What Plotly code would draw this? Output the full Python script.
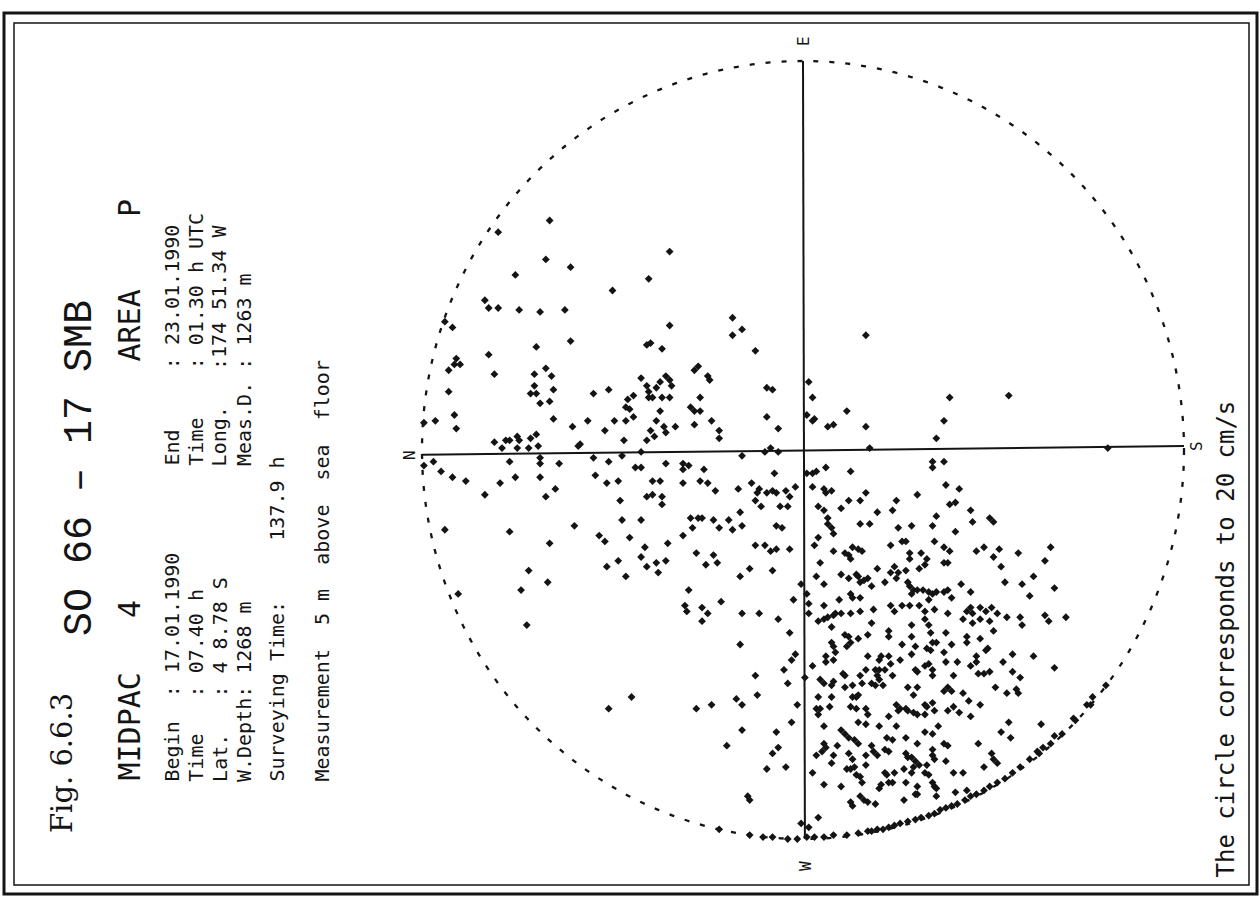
import plotly.graph_objects as go

# ---------------------------------------------------------------------------
# Current-meter scatter (velocity hodograph), station SO 66-17 SMB, area P.
# Each point is one (north, east) velocity reading in cm/s; the dashed
# circle marks 20 cm/s. Readings above 20 cm/s are drawn on the circle.
# ---------------------------------------------------------------------------

# (north, east) components, cm/s -- north-east sector
sector_ne = [
    (13.3, 11.8), (16.0, 11.2), (13.5, 9.8), (12.2, 9.4), (15.1, 9.0), (10.0, 8.2),
    (8.1, 8.8), (7.0, 10.2), (16.7, 7.7), (16.5, 7.3), (16.0, 7.3), (14.9, 7.2),
    (13.8, 7.1), (12.5, 7.2), (18.4, 6.3), (18.8, 6.6), (7.0, 6.4), (3.7, 6.8),
    (3.7, 5.9), (3.2, 6.2), (2.5, 5.1), (8.2, 5.4), (8.0, 5.5), (7.4, 5.2),
    (12.2, 5.6), (14.0, 5.3), (16.5, 4.9), (18.2, 4.7), (18.3, 4.4), (18.0, 4.4),
    (18.6, 4.1), (16.2, 3.9), (14.1, 3.9), (13.5, 4.2), (13.2, 3.8), (14.1, 3.3),
    (14.3, 2.9), (14.0, 2.9), (13.1, 3.1), (13.8, 2.4), (13.3, 2.5), (18.6, 3.0),
    (11.0, 2.9), (10.2, 3.1), (8.5, 3.7), (8.2, 3.3), (8.1, 3.0), (8.1, 2.7),
    (7.9, 2.7), (7.7, 3.2), (7.5, 3.5), (7.2, 3.8), (7.0, 3.6), (6.9, 3.3),
    (7.4, 2.7), (7.0, 2.7), (5.7, 4.1), (5.5, 4.3), (5.0, 3.8), (4.9, 3.6),
    (5.4, 2.7), (9.2, 2.6), (8.9, 2.8), (9.3, 2.2), (9.1, 2.1), (8.9, 1.7),
    (7.5, 2.0), (5.9, 2.2), (5.7, 2.0), (5.4, 2.0), (1.9, 3.2), (1.6, 3.1),
    (1.9, 1.7), (1.3, 1.1), (18.3, 1.8), (18.2, 1.1), (19.3, 1.5), (19.9, 1.4),
    (13.1, 1.6), (12.1, 1.2), (11.3, 1.5), (10.4, 1.0), (9.9, 1.5), (9.3, 1.5),
    (9.4, 0.5), (11.7, 0.3), (11.8, 0.2), (16.2, 0.4), (15.6, 0.5), (15.4, 0.5),
    (15.0, 0.7), (14.9, 0.5), (14.3, 0.6), (14.0, 0.8), (13.9, 0.2), (7.7, 1.5),
    (8.0, 1.0), (7.8, 0.7), (8.2, 0.5), (7.3, 1.2), (7.2, 0.9), (6.7, 1.2),
    (5.7, 1.3), (4.8, 1.5), (4.4, 1.0), (4.4, 0.6), (1.7, 0.1), (15.8, 0.1),
    (15.0, 0.1), (14.4, 0.1),
]

# south-east sector
sector_se = [
    (-0.2, 1.8), (-0.3, 3.5), (-3.3, 5.9), (-0.5, 2.7), (-0.5, 1.5), (-0.6, 1.6),
    (-1.3, 1.2), (-1.6, 1.3), (-2.3, 2.0), (-3.3, 1.2), (-7.0, 0.6), (-7.4, 1.5),
    (-7.7, 2.7), (-10.8, 2.8), (-3.5, 0.1), (-16.0, 0.1),
]

# north-west sector
sector_nw = [
    (1.3, -0.1), (2.0, -0.1), (8.5, -0.1), (15.4, -0.6), (13.8, -0.4), (13.8, -0.7),
    (12.8, -0.7), (19.9, -0.8), (19.4, -0.6), (19.0, -1.1), (18.4, -1.4), (17.7, -1.6),
    (16.7, -2.3), (15.9, -1.7), (15.1, -1.4), (13.8, -1.4), (13.5, -2.4), (13.0, -2.0),
    (11.0, -0.4), (10.9, -1.3), (10.2, -0.6), (10.3, -1.7), (9.7, -1.6), (9.6, -2.6),
    (9.5, -0.3), (8.8, -0.9), (8.5, -0.9), (7.2, -0.7), (6.3, -0.7), (6.3, -1.0),
    (6.0, -0.8), (5.2, -1.0), (3.2, -0.3), (7.9, -1.6), (7.5, -1.6), (8.2, -2.4),
    (7.9, -2.3), (7.4, -2.4), (7.4, -2.8), (6.3, -1.7), (5.4, -1.6), (5.0, -1.7),
    (4.6, -2.1), (3.4, -2.0), (2.7, -1.7), (2.3, -2.0), (2.4, -2.2), (1.9, -2.2),
    (1.6, -2.1), (1.4, -2.2), (0.9, -2.1), (0.4, -1.9), (1.5, -1.2), (2.5, -2.6),
    (2.2, -2.9), (1.2, -2.9), (0.8, -2.9), (0.7, -2.4), (18.8, -4.1), (15.4, -4.2),
    (13.3, -4.8), (12.0, -3.9), (10.7, -4.4), (10.4, -4.7), (9.5, -3.6), (8.5, -3.6),
    (9.1, -4.5), (8.3, -5.0), (8.5, -5.5), (8.2, -6.0), (7.7, -5.8), (7.6, -6.3),
    (7.2, -5.7), (7.1, -4.8), (9.7, -5.7), (10.3, -6.0), (9.3, -6.5), (6.3, -4.4),
    (5.9, -3.5), (5.5, -3.5), (5.3, -3.5), (5.8, -4.0), (4.7, -3.6), (4.4, -4.0),
    (3.9, -3.6), (3.7, -4.1), (3.2, -3.9), (3.3, -3.2), (5.6, -5.3), (4.7, -5.4),
    (5.1, -5.9), (4.5, -5.8), (2.8, -6.1), (3.3, -6.5), (2.5, -4.9), (2.0, -4.9),
    (1.7, -5.2), (1.4, -5.1), (0.7, -5.1), (1.4, -3.9), (1.1, -4.0), (1.6, -6.2),
    (0.1, -6.9), (6.0, -7.2), (6.2, -8.0), (6.1, -8.3), (5.3, -8.1), (5.0, -8.4),
    (5.3, -8.8), (4.3, -7.8), (3.2, -8.4), (2.3, -8.4), (1.3, -8.7), (0.5, -7.7),
    (0.7, -9.4), (3.3, -10.0), (0.4, -10.5), (0.6, -10.8), (1.0, -11.3), (0.8, -12.0),
    (2.5, -11.6), (2.4, -12.6), (3.5, -12.8), (3.2, -13.1), (4.8, -13.1), (5.6, -13.3),
    (0.3, -13.1), (0.6, -14.0), (3.2, -14.4), (1.4, -14.5), (1.3, -15.3), (1.6, -15.6),
    (4.0, -15.2), (1.9, -16.4), (0.9, -16.3), (2.9, -17.8), (2.8, -18.0), (9.0, -12.7),
    (10.2, -13.3), (18.1, -7.4), (14.8, -7.2), (14.4, -6.2), (13.4, -6.8), (14.5, -9.0),
    (0.1, -19.2), (2.8, -19.8), (2.1, -19.9), (1.6, -19.9), (0.8, -20.0), (0.3, -20.0),
    (4.4, -19.5),
]

# south-west sector
sector_sw = [
    (-6.8, -0.6), (-6.8, -0.9), (-7.4, -0.6), (-0.2, -1.2), (-0.5, -1.2), (-0.7, -1.1),
    (-1.2, -0.9), (-2.5, -1.1), (-0.5, -1.9), (-1.1, -2.0), (-1.2, -2.2), (-1.5, -2.1),
    (-3.3, -2.2), (-3.0, -2.6), (-2.4, -2.6), (-6.0, -2.3), (-7.5, -1.8), (-8.2, -2.0),
    (-4.9, -2.6), (-7.7, -2.8), (-8.0, -2.7), (-0.8, -2.9), (-1.1, -3.1), (-2.0, -3.0),
    (-3.9, -3.2), (-4.7, -3.1), (-1.3, -3.5), (-1.3, -3.8), (-1.5, -4.0), (-1.6, -4.3),
    (-3.0, -3.8), (-3.5, -3.8), (-5.0, -4.0), (-5.7, -3.9), (-6.8, -3.9), (-7.0, -3.4),
    (-8.0, -4.2), (-8.8, -3.1), (-8.9, -3.7), (-9.8, -3.5), (-10.0, -3.7), (-0.8, -4.5),
    (-0.6, -4.9), (-1.6, -5.2), (-2.2, -5.3), (-2.4, -5.4), (-2.6, -5.0), (-2.9, -5.1),
    (-3.1, -5.2), (-2.5, -5.6), (-4.6, -4.9), (-5.2, -4.7), (-5.4, -4.7), (-5.6, -5.3),
    (-5.6, -5.6), (-6.2, -5.3), (-6.5, -5.6), (-6.4, -5.9), (-6.1, -6.1), (-6.9, -4.7),
    (-7.4, -5.0), (-7.7, -5.2), (-7.4, -5.8), (-7.6, -5.8), (-9.1, -5.2), (-9.5, -5.0),
    (-10.0, -5.5), (-10.3, -5.1), (-10.4, -6.0), (-11.3, -5.3), (-12.7, -5.7), (-13.0, -5.0),
    (-0.9, -5.8), (-0.7, -6.5), (-1.1, -6.9), (-2.0, -6.4), (-2.4, -6.6), (-2.8, -6.4),
    (-2.9, -6.5), (-3.0, -6.8), (-3.2, -6.7), (-3.4, -6.6), (-3.6, -7.0), (-3.9, -6.1),
    (-4.3, -6.8), (-4.6, -6.3), (-4.8, -6.0), (-5.0, -6.3), (-5.4, -6.2), (-4.9, -6.6),
    (-5.5, -6.8), (-5.6, -7.0), (-5.8, -7.2), (-6.0, -7.2), (-6.3, -7.2), (-6.6, -7.3),
    (-5.7, -7.4), (-7.0, -7.3), (-7.4, -7.3), (-7.6, -7.2), (-6.6, -7.7), (-6.8, -7.4),
    (-6.9, -8.2), (-7.8, -7.6), (-8.3, -6.9), (-8.8, -7.3), (-10.6, -6.8), (-11.5, -6.9),
    (-11.9, -7.5), (-12.1, -6.5), (-13.2, -7.1), (-0.2, -7.4), (-0.3, -7.9), (-1.1, -8.0),
    (-1.9, -7.7), (-2.5, -7.4), (-2.6, -7.6), (-3.0, -7.6), (-3.7, -8.2), (-4.6, -8.0),
    (-4.8, -8.3), (-5.2, -8.0), (-5.6, -8.0), (-6.1, -8.0), (-6.4, -8.3), (-3.0, -8.3),
    (-2.5, -8.4), (-0.3, -8.4), (-0.8, -8.8), (-1.1, -8.7), (-1.3, -8.6), (-1.6, -8.5),
    (-1.7, -8.4), (-2.0, -8.4), (-7.6, -8.4), (-8.6, -8.3), (-8.8, -8.1), (-8.9, -8.4),
    (-9.3, -8.1), (-9.6, -8.3), (-9.9, -8.1), (-10.2, -8.4), (-10.7, -8.6), (-11.4, -8.6),
    (-8.4, -8.7), (-8.9, -8.9), (-9.3, -8.7), (-9.8, -8.8), (-10.0, -9.3), (-11.5, -9.0),
    (-12.7, -8.5), (-12.9, -8.8), (-13.8, -8.6), (-6.4, -8.7), (-6.6, -9.0), (-5.7, -9.0),
    (-3.6, -8.9), (-1.5, -9.1), (-2.2, -9.5), (-2.4, -9.6), (-2.5, -9.9), (-2.3, -10.1),
    (-2.9, -9.7), (-3.4, -9.5), (-1.5, -9.9), (-1.6, -10.1), (-1.7, -10.4), (-4.5, -9.3),
    (-4.5, -9.6), (-5.7, -9.6), (-6.7, -9.4), (-6.8, -9.9), (-7.0, -9.9), (-7.5, -9.4),
    (-7.8, -10.0), (-8.6, -9.6), (-8.6, -9.9), (-9.3, -9.7), (-9.7, -10.2), (-9.6, -10.3),
    (-6.5, -10.2), (-6.7, -10.3), (-5.9, -10.1), (-7.4, -10.4), (-5.2, -10.0), (-3.4, -10.6),
    (-4.1, -10.6), (-4.0, -10.8), (-4.5, -10.6), (-5.7, -10.5), (-4.6, -11.0), (-5.1, -10.8),
    (-1.2, -10.6), (-1.2, -10.9), (-1.6, -10.8), (-0.5, -11.1), (-2.1, -11.5), (-2.2, -11.6),
    (-3.0, -11.6), (-3.3, -11.3), (-3.8, -11.3), (-3.9, -11.6), (-4.0, -11.3), (-4.3, -11.3),
    (-4.7, -11.6), (-5.9, -11.3), (-6.0, -11.4), (-6.4, -11.1), (-6.6, -11.0), (-6.8, -11.3),
    (-7.5, -10.9), (-8.1, -10.9), (-8.8, -11.1), (-9.1, -10.6), (-9.1, -10.9), (-9.2, -11.5),
    (-9.5, -11.5), (-9.8, -11.4), (-10.5, -10.9), (-11.0, -10.5), (-11.0, -11.4), (-11.4, -11.7),
    (-12.1, -10.6), (-13.2, -11.2), (-6.8, -11.6), (-7.9, -11.6), (-0.1, -11.7), (-0.9, -11.8),
    (-1.1, -12.0), (-1.6, -11.9), (-1.5, -12.1), (-2.2, -12.2), (-2.6, -12.1), (-3.1, -12.0),
    (-3.6, -12.0), (-4.0, -11.8), (-3.8, -12.1), (-4.2, -12.1), (-5.5, -12.2), (-6.0, -12.2),
    (-7.6, -12.2), (-7.4, -12.4), (-7.8, -12.4), (-8.4, -12.5), (-2.6, -12.7), (-2.8, -12.7),
    (-2.9, -12.6), (-1.5, -12.7), (-0.8, -12.7), (-5.8, -12.6), (-6.4, -13.1), (-10.1, -12.2),
    (-10.7, -12.5), (-11.2, -12.3), (-11.3, -12.5), (-8.7, -12.9), (-9.3, -13.1), (-0.7, -13.3),
    (-0.9, -13.3), (-1.4, -13.2), (-0.8, -13.6), (-2.5, -13.2), (-2.8, -13.3), (-3.3, -13.3),
    (-3.4, -13.6), (-4.5, -13.7), (-4.9, -13.1), (-5.0, -13.4), (-5.1, -13.3), (-5.4, -13.3),
    (-5.5, -13.4), (-5.8, -13.5), (-6.0, -13.6), (-6.4, -13.6), (-6.5, -13.2), (-6.8, -13.0),
    (-6.9, -13.4), (-7.6, -13.4), (-7.9, -13.2), (-8.2, -13.5), (-8.8, -13.7), (-1.1, -14.2),
    (-2.9, -14.0), (-3.3, -14.1), (-4.0, -14.2), (-4.9, -14.2), (-6.4, -14.5), (-6.8, -14.6),
    (-7.1, -14.2), (-5.4, -14.8), (-10.4, -14.5), (-10.8, -14.0), (-10.9, -14.8), (-12.5, -14.1),
    (-14.2, -13.8), (-14.9, -13.1), (-15.2, -12.7), (-2.0, -14.4), (-2.2, -14.6), (-2.4, -14.8),
    (-2.7, -14.9), (-2.9, -15.1), (-1.8, -15.2), (-1.1, -15.1), (-1.2, -15.3), (-1.0, -15.5),
    (-0.7, -15.7), (-1.6, -15.7), (-2.4, -15.6), (-2.6, -15.9), (-3.3, -15.7), (-3.6, -15.2),
    (-3.7, -15.5), (-3.9, -15.7), (-4.4, -14.8), (-4.7, -14.9), (-4.3, -15.4), (-4.5, -15.5),
    (-5.4, -15.6), (-5.5, -15.8), (-5.7, -15.8), (-5.9, -16.0), (-6.0, -15.1), (-6.8, -15.4),
    (-6.8, -15.7), (-7.4, -15.1), (-7.6, -15.2), (-7.5, -16.0), (-9.2, -15.1), (-9.9, -15.6),
    (-10.0, -15.9), (-10.2, -16.1), (-12.3, -15.5), (-12.6, -15.3), (-13.2, -14.7), (-1.5, -16.1),
    (-0.5, -16.6), (-2.3, -16.4), (-2.5, -16.4), (-2.7, -16.3), (-2.8, -16.7), (-3.3, -16.2),
    (-4.3, -16.6), (-4.4, -16.7), (-4.8, -16.6), (-5.3, -16.4), (-5.8, -16.3), (-5.7, -16.6),
    (-6.1, -16.2), (-6.5, -16.2), (-6.4, -16.6), (-6.6, -16.7), (-6.9, -15.9), (-7.9, -16.6),
    (-8.4, -16.6), (-9.5, -16.3), (-1.1, -17.2), (-2.0, -17.3), (-3.0, -16.8), (-3.1, -17.1),
    (-4.0, -17.4), (-4.1, -17.2), (-4.5, -17.1), (-4.7, -17.1), (-5.4, -17.1), (-6.0, -17.3),
    (-6.0, -17.7), (-6.8, -17.1), (-6.9, -17.3), (-7.0, -17.4), (-7.0, -17.8), (-8.0, -17.6),
    (-8.6, -17.5), (-5.3, -18.0), (-5.9, -17.7), (-2.5, -18.1), (-2.6, -18.3), (-3.0, -17.8),
    (-3.2, -18.0), (-3.4, -18.1), (-3.8, -18.2), (-0.8, -18.9), (-0.3, -19.4),
]

# readings of 20 cm/s and more, plotted on the circle
sector_sw_rim = [
    (-0.2, -19.9), (-0.6, -19.9), (-1.1, -19.9), (-1.6, -19.8), (-2.3, -19.8), (-2.9, -19.7),
    (-3.4, -19.6), (-3.6, -19.6), (-3.9, -19.5), (-4.2, -19.5), (-4.5, -19.4), (-4.8, -19.3),
    (-5.1, -19.2), (-5.5, -19.1), (-5.9, -19.0), (-6.2, -18.9), (-6.6, -18.8), (-6.9, -18.7),
    (-7.2, -18.5), (-7.5, -18.4), (-7.8, -18.3), (-8.1, -18.2), (-8.5, -18.0), (-8.8, -17.8),
    (-9.1, -17.7), (-9.5, -17.5), (-9.8, -17.3), (-10.2, -17.1), (-10.6, -16.9), (-11.0, -16.6),
    (-11.4, -16.3), (-11.9, -15.9), (-12.4, -15.6), (-13.0, -15.1), (-13.6, -14.6), (-14.3, -13.9),
    (-15.1, -13.1), (-15.9, -12.1),
]

SCALE_CMS = 20  # speed represented by the circle

header_lines_left = ["Begin  : 17.01.1990", "Time   : 07.40 h", "Lat.   : 4 8.78 S", "W.Depth: 1268 m"]
header_lines_right = ["End     : 23.01.1990", "Time    : 01.30 h UTC", "Long.   :174 51.34 W", "Meas.D. : 1263 m"]

# ---------------------------------------------------------------------------
W, H = 1260, 897
CX, CY = 803, 450          # pixel position of the rose centre
RX, RY = 381, 389          # pixel radius of the 20 cm/s circle
INK = "#141414"


def px(x):
    return x / W


def py(y):
    return 1 - y / H


all_points = sector_ne + sector_se + sector_nw + sector_sw + sector_sw_rim
north = [p[0] for p in all_points]
east = [p[1] for p in all_points]

fig = go.Figure()
# chart is turned a quarter turn: north points left, east points up
fig.add_trace(go.Scatter(
    x=[-n for n in north], y=east, mode="markers",
    marker=dict(symbol="diamond", size=6, color=INK, line=dict(width=0)),
    hoverinfo="skip", showlegend=False,
))

x_range = [-CX / RX * SCALE_CMS, (W - CX) / RX * SCALE_CMS]
y_range = [-(H - CY) / RY * SCALE_CMS, CY / RY * SCALE_CMS]

shapes = [
    # 20 cm/s circle
    dict(type="circle", xref="x", yref="y", x0=-SCALE_CMS, x1=SCALE_CMS,
         y0=-SCALE_CMS, y1=SCALE_CMS, line=dict(color=INK, width=2.3, dash="5px,11px")),
    # N-S and W-E axes (the plotted sheet sits very slightly askew)
    dict(type="line", xref="x", yref="y", x0=-SCALE_CMS, x1=SCALE_CMS, y0=-0.25, y1=0.2,
         line=dict(color=INK, width=2)),
    dict(type="line", xref="x", yref="y", x0=0.1, x1=0, y0=-SCALE_CMS, y1=SCALE_CMS,
         line=dict(color=INK, width=2)),
    # double frame
    dict(type="rect", xref="paper", yref="paper", x0=px(4), x1=px(1257), y0=py(894), y1=py(13),
         line=dict(color=INK, width=3)),
    dict(type="rect", xref="paper", yref="paper", x0=px(14), x1=px(1249), y0=py(885), y1=py(23),
         line=dict(color=INK, width=1.5)),
]

MONO = "DejaVu Sans Mono"
annotations = []


def vtext(text, x, y, size, family=MONO, anchor="bottom"):
    annotations.append(dict(
        text=text, x=px(x), y=py(y), xref="paper", yref="paper", showarrow=False,
        textangle=-90, xanchor="center", yanchor=anchor,
        font=dict(family=family, size=size, color=INK),
    ))


# titles
vtext("Fig. 6.6.3", 62, 763, 29, family="DejaVu Serif", anchor="middle")
vtext("SO 66 \u2013 17 SMB", 80, 638, 40, family="Liberation Mono")
vtext("MIDPAC   4", 129, 783, 30)
vtext("AREA    P", 129, 364, 30)

# station header
for i, line in enumerate(header_lines_left):
    vtext(line, 171 + i * 24.2, 784, 20)
for i, line in enumerate(header_lines_right):
    vtext(line, 171 + i * 24.2, 468, 20)
vtext("Surveying Time:     137.9 h", 276, 784, 20)
vtext("Measurement  5 m  above  sea  floor", 321, 784, 20)

# compass points
vtext("N", 409, 455, 16, anchor="middle")
vtext("S", 1196, 446, 16, anchor="middle")
vtext("E", 803, 41, 16, anchor="middle")
vtext("W", 805, 866, 16, anchor="middle")

vtext("The circle corresponds to 20 cm/s", 1225, 880, 24)

fig.update_layout(
    width=W, height=H, margin=dict(l=0, r=0, t=0, b=0),
    paper_bgcolor="white", plot_bgcolor="white",
    xaxis=dict(range=x_range, visible=False, fixedrange=True),
    yaxis=dict(range=y_range, visible=False, fixedrange=True),
    shapes=shapes, annotations=annotations,
)

fig.write_html("out.html")
